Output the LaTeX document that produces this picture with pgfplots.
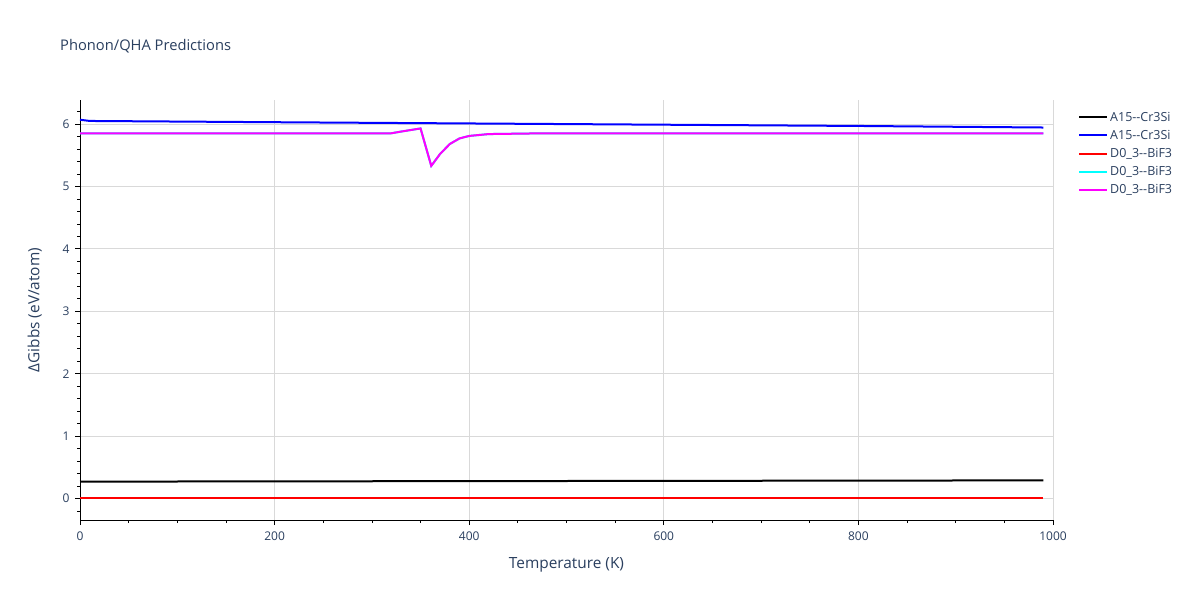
\documentclass[border=0pt]{standalone}
\usepackage{pgfplots}
\pgfplotsset{compat=1.18}
\usepackage{fontspec}
\setmainfont{Open Sans}[Ligatures=NoCommon]
\definecolor{plotlytext}{HTML}{2A3F5F}
\definecolor{gridc}{HTML}{D9D9D9}
\definecolor{pmag}{HTML}{FF00FF}
\definecolor{pcyan}{HTML}{00FFFF}
\begin{document}
\begin{tikzpicture}[x=1pt,y=1pt]
\path[use as bounding box,fill=white] (0,0) rectangle (1200,600);
\node[anchor=base west,font=\fontsize{14.7}{17}\selectfont,text=plotlytext,inner sep=0] at (60,549) {Phonon/QHA Predictions};
\begin{axis}[
  at={(80pt,80pt)}, anchor=south west,
  scale only axis, width=973pt, height=420pt,
  xmin=0, xmax=1000, ymin=-0.345, ymax=6.386,
  axis lines*=left,
  axis line style={black, line width=1pt},
  xtick={0,200,400,600,800,1000},
  ytick={0,1,2,3,4,5,6},
  minor xtick={50,100,...,950},
  minor ytick={-0.2,0.2,0.4,0.6,0.8,1.2,1.4,1.6,1.8,2.2,2.4,2.6,2.8,3.2,3.4,3.6,3.8,4.2,4.4,4.6,4.8,5.2,5.4,5.6,5.8,6.2,6.4},
  tick align=outside,
  major tick length=5pt, minor tick length=3pt,
  tick style={black, line width=0.8pt},
  grid=major, major grid style={gridc, line width=0.8pt},
  /pgf/number format/assume math mode=true,
  /pgf/number format/1000 sep={},
  tick label style={font=\fontsize{12}{14}\selectfont, text=plotlytext},
  xticklabel style={yshift=-3pt},
  yticklabel style={xshift=-2pt},
  xlabel={Temperature (K)}, ylabel={ΔGibbs (eV/atom)},
  label style={font=\fontsize{15.4}{18}\selectfont, text=plotlytext},
  xlabel style={yshift=-10pt},
  ylabel style={yshift=14pt},
  legend style={at={(1.0257,0.977)}, anchor=north west, draw=none, fill=none,
    font=\fontsize{12.5}{14}\selectfont, text=plotlytext, row sep=3.5pt,
    inner sep=0pt},
  legend cell align=left,
  legend image code/.code={\draw[#1, line width=2pt] (0pt,0pt) -- (28pt,0pt);},
  clip=false,
]
\addplot[gridc, line width=1.5pt, forget plot] coordinates {(0,0) (1000,0)};
\addplot[black, line width=2pt] coordinates {(0,0.27) (200,0.274) (400,0.278) (600,0.282) (800,0.286) (990,0.29)};
\addlegendentry{A15-{}-Cr3Si}
\addplot[blue, line width=2pt] coordinates {(0,6.07) (5,6.06) (10,6.05) (200,6.03) (400,6.01) (600,5.99) (800,5.97) (990,5.945)};
\addlegendentry{A15-{}-Cr3Si}
\addplot[red, line width=2pt] coordinates {(0,0) (990,0)};
\addlegendentry{D0\_3-{}-BiF3}
\addplot[pcyan, line width=2pt] coordinates {(0,5.85) (320,5.853) (330,5.88) (350,5.93) (361,5.33) (370,5.52) (380,5.68) (390,5.77) (400,5.81) (420,5.84) (480,5.853) (990,5.853)};
\addlegendentry{D0\_3-{}-BiF3}
\addplot[pmag, line width=2pt] coordinates {(0,5.85) (320,5.853) (330,5.88) (350,5.93) (361,5.33) (370,5.52) (380,5.68) (390,5.77) (400,5.81) (420,5.84) (480,5.853) (990,5.853)};
\addlegendentry{D0\_3-{}-BiF3}
\end{axis}
\end{tikzpicture}
\end{document}
